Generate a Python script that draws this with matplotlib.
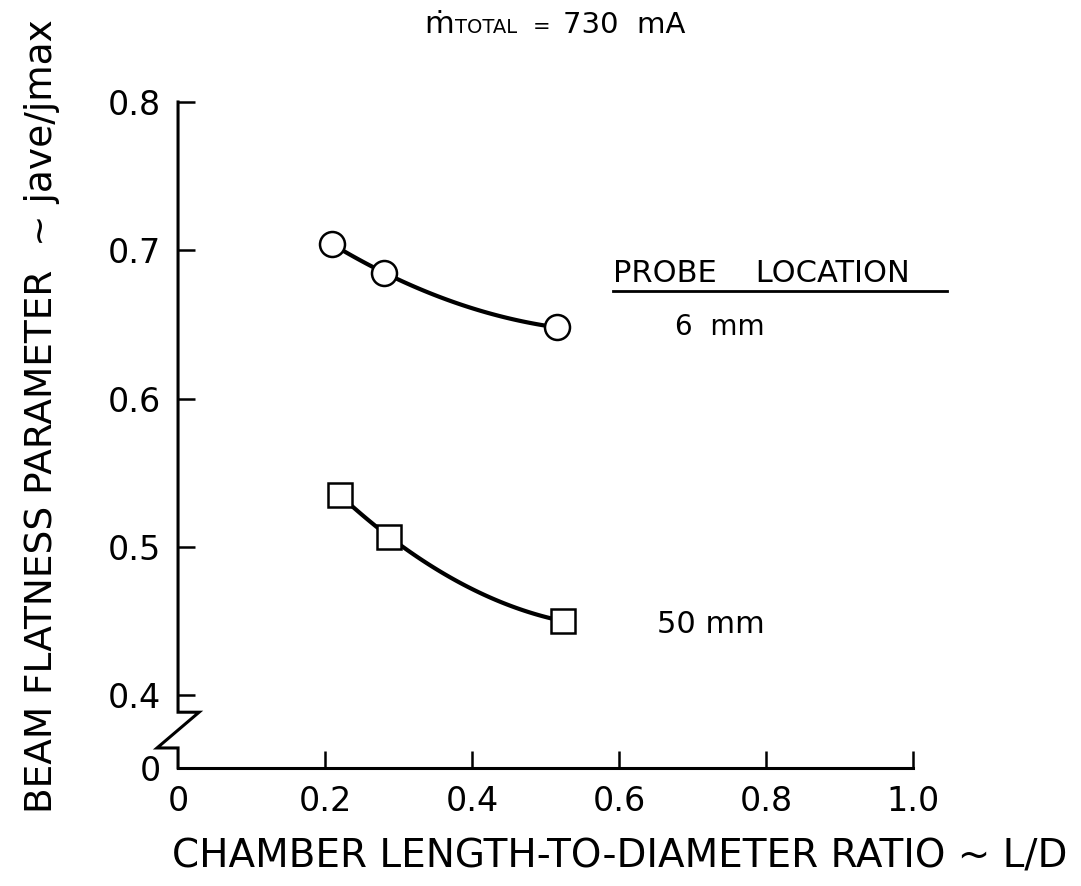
import numpy as np
import matplotlib.pyplot as plt
from matplotlib.lines import Line2D

# probe at 6 mm (circles) and 50 mm (squares)
ld_6mm = [0.210, 0.280, 0.516]
flat_6mm = [0.704, 0.685, 0.648]
ld_50mm = [0.220, 0.287, 0.524]
flat_50mm = [0.535, 0.507, 0.450]

x_ticks = [0, 0.2, 0.4, 0.6, 0.8, 1.0]
x_tick_labels = ['0', '0.2', '0.4', '0.6', '0.8', '1.0']
y_ticks = [0.351, 0.4, 0.5, 0.6, 0.7, 0.8]
y_tick_labels = ['0', '0.4', '0.5', '0.6', '0.7', '0.8']


def trend(ax, x, y):
    # smooth hand-drawn style curve through the three measurements
    c = np.polyfit(x, y, 2)
    xs = np.linspace(x[0], x[-1], 100)
    ax.plot(xs, np.polyval(c, xs), color='k', lw=3, zorder=2)


fig = plt.figure(figsize=(10.81, 8.86), dpi=100)
ax = fig.add_axes([0.1647, 0.1332, 0.680, 0.7517])

trend(ax, ld_6mm, flat_6mm)
trend(ax, ld_50mm, flat_50mm)
ax.plot(ld_6mm, flat_6mm, 'o', ms=18, mfc='white', mec='k', mew=1.8, zorder=3)
ax.plot(ld_50mm, flat_50mm, 's', ms=17, mfc='white', mec='k', mew=1.8, zorder=3)

ax.set_xlim(0, 1.0)
ax.set_ylim(y_ticks[0], 0.8)
ax.set_xticks(x_ticks, x_tick_labels)
ax.set_yticks(y_ticks, y_tick_labels)
ax.tick_params(direction='in', length=12, width=1.8, labelsize=24, pad=12)
ax.xaxis.get_major_ticks()[0].tick1line.set_visible(False)
ax.yaxis.get_major_ticks()[0].tick1line.set_visible(False)

for s in ['top', 'right', 'left']:
    ax.spines[s].set_visible(False)
ax.spines['bottom'].set_linewidth(2.2)

# broken y axis with zigzag near the bottom
yb = y_ticks[0]
zz_top = 0.4 - 0.0114
zz_bot = 0.4 - 0.0355
ax.plot([0, 0, 0.0286, -0.0286, 0, 0],
        [0.8, zz_top, zz_top, zz_bot, zz_bot, yb],
        color='k', lw=2.2, clip_on=False, solid_joinstyle='miter')

ax.set_xlabel('CHAMBER LENGTH-TO-DIAMETER RATIO ~ L/D', fontsize=28)
ax.xaxis.set_label_coords(0.601, -0.105)
ax.set_ylabel('BEAM FLATNESS PARAMETER  ~ jave/jmax', fontsize=27)
ax.yaxis.set_label_coords(-0.16, 0.529)

# title: m-dot total
base = 0.9628
fig.text(424 / 1081, base, '\u1e41', fontsize=22, va='baseline')
fig.text(455 / 1081, base, 'TOTAL', fontsize=14, va='baseline')
fig.text(533 / 1081, base, '=', fontsize=15, va='baseline')
fig.text(563 / 1081, base, '730  mA', fontsize=21, va='baseline')

# probe location key
fig.text(613 / 1081, (886 - 282) / 886, 'PROBE    LOCATION', fontsize=22, va='baseline')
fig.add_artist(Line2D([613 / 1081, 947 / 1081], [(886 - 291) / 886] * 2,
                      color='k', lw=2, transform=fig.transFigure))
fig.text(675 / 1081, (886 - 335) / 886, '6  mm', fontsize=20, va='baseline')
fig.text(657 / 1081, (886 - 633) / 886, '50 mm', fontsize=22, va='baseline')

plt.savefig('out.png', dpi=100)
plt.close()
